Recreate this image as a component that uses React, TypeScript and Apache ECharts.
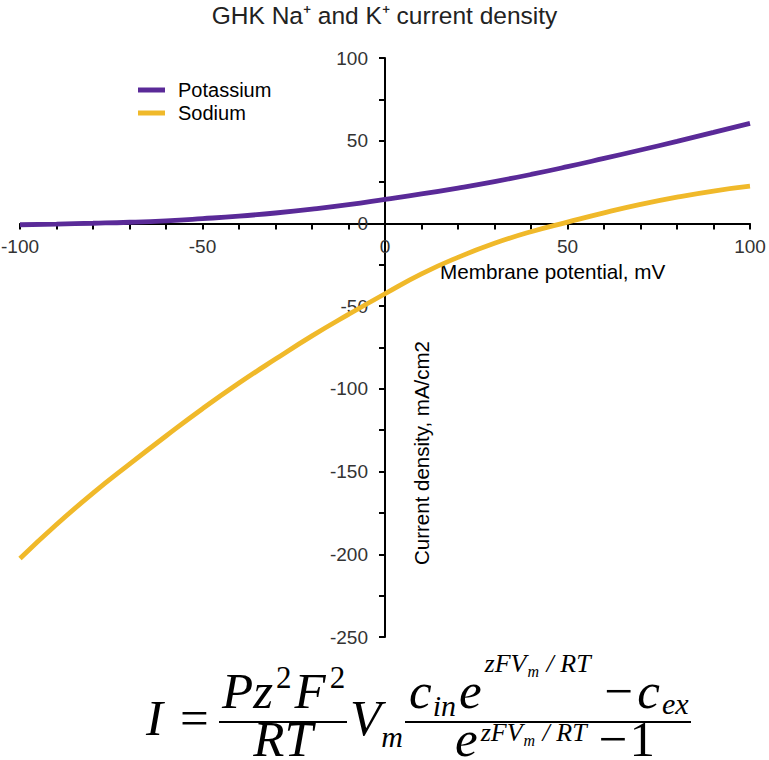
import React, { useEffect, useRef } from "react";
import * as echarts from "echarts";

const voltages = [-100, -90, -80, -70, -60, -50, -40, -30, -20, -10, 0, 10, 20, 30, 40, 50, 60, 70, 80, 90, 100];
const potassium = [-0.8, -0.4, 0.1, 0.7, 1.6, 2.9, 4.4, 6.3, 8.6, 11.3, 14.5, 17.8, 21.4, 25.3, 29.6, 34.3, 39.3, 44.4, 49.6, 55, 60.5];
const sodium = [-202.5, -182, -163, -145.5, -128.5, -112, -96.5, -82, -68, -55, -42.5, -30.5, -20.5, -12, -5, 0.8, 6.4, 11.5, 15.9, 19.6, 22.5];
const seriesNames = ["Potassium", "Sodium"];
const xTickLabels = [-100, -50, 0, 50, 100];
const yTickLabels = [-250, -200, -150, -100, -50, 0, 50, 100];

const X_MIN = -100, X_MAX = 100, Y_MIN = -250, Y_MAX = 100;

const SERIF = "'Liberation Serif', 'Times New Roman', serif";
const SANS = "'Liberation Sans', Arial, Helvetica, sans-serif";

type Piece = { t: string; size: number; it?: boolean; dy?: number; gap?: number };

let ctx: CanvasRenderingContext2D | null = null;
function measure(text: string, size: number, it: boolean) {
  if (!ctx) ctx = document.createElement("canvas").getContext("2d");
  if (!ctx) return text.length * size * 0.5;
  ctx.font = `${it ? "italic " : ""}${size}px ${SERIF}`;
  return ctx.measureText(text).width;
}

function row(pieces: Piece[], x0: number, baseline: number) {
  const out: any[] = [];
  let x = x0;
  for (const p of pieces) {
    x += p.gap || 0;
    const it = p.it !== false;
    out.push({
      type: "text",
      style: {
        text: p.t,
        x,
        y: baseline + (p.dy || 0) - 0.3375 * p.size,
        fontSize: p.size,
        lineHeight: Math.round(p.size * 0.7),
        fontFamily: SERIF,
        fontStyle: it ? "italic" : "normal",
        fill: "#000",
        align: "left",
        verticalAlign: "middle",
      },
    });
    x += measure(p.t, p.size, it);
  }
  return out;
}

function rowWidth(pieces: Piece[]) {
  let w = 0;
  for (const p of pieces) w += (p.gap || 0) + measure(p.t, p.size, p.it !== false);
  return w;
}

function formula() {
  const F = 51;
  const els: any[] = [];
  els.push(...row([{ t: "I", size: F }], 146, 735));
  els.push(...row([{ t: "=", size: F, it: false }], 180, 735));
  els.push(
    ...row(
      [
        { t: "Pz", size: F },
        { t: "2", size: 31, it: false, dy: -20, gap: 3 },
        { t: "F", size: F, gap: 3 },
        { t: "2", size: 31, it: false, dy: -20, gap: 4 },
      ],
      222,
      708
    )
  );
  els.push({ type: "line", shape: { x1: 219, y1: 722, x2: 347, y2: 722 }, style: { stroke: "#000", lineWidth: 2 } });
  const rt: Piece[] = [{ t: "RT", size: F }];
  els.push(...row(rt, 283 - rowWidth(rt) / 2, 756));
  els.push(...row([{ t: "V", size: F }, { t: "m", size: 30, dy: 12, gap: 0 }], 350, 735));
  els.push({ type: "line", shape: { x1: 405, y1: 722, x2: 691, y2: 722 }, style: { stroke: "#000", lineWidth: 2 } });
  els.push(
    ...row(
      [
        { t: "c", size: F },
        { t: "in", size: 30, dy: 8, gap: 1 },
        { t: "e", size: F, gap: 3 },
        { t: "zFV", size: 26, dy: -36, gap: 3 },
        { t: "m", size: 16, dy: -31, gap: 1 },
        { t: " / RT", size: 26, dy: -36, gap: 1 },
        { t: "\u2212", size: F, it: false, gap: 14 },
        { t: "c", size: F, gap: 4 },
        { t: "ex", size: 30, dy: 6, gap: 2 },
      ],
      409,
      708
    )
  );
  els.push(
    ...row(
      [
        { t: "e", size: F },
        { t: "zFV", size: 26, dy: -15, gap: 3 },
        { t: "m", size: 16, dy: -10, gap: 1 },
        { t: " / RT", size: 26, dy: -15, gap: 1 },
        { t: "\u2212", size: F, it: false, gap: 12 },
        { t: "1", size: F, it: false, gap: 2 },
      ],
      455,
      756
    )
  );
  return els;
}

export default function App() {
  const ref = useRef<HTMLDivElement>(null);
  useEffect(() => {
    document.body.style.margin = "0";
    if (!ref.current) return;
    const chart = echarts.init(ref.current, undefined, { renderer: "svg" });
    const W = 769, H = 760;
    const grid = { left: 20, right: 19, top: 58, bottom: 123 };
    const gw = W - grid.left - grid.right;
    const gh = H - grid.top - grid.bottom;
    // offsets that put each axis on the other axis' zero
    const xAxisOffset = -(gh * (0 - Y_MIN)) / (Y_MAX - Y_MIN);
    const yAxisOffset = -(gw * (0 - X_MIN)) / (X_MAX - X_MIN);
    const option: any = {
      animation: false,
      backgroundColor: "#fff",
      title: {
        text: "GHK Na\u207A and K\u207A current density",
        left: "center",
        top: -2,
        textStyle: { fontSize: 24.5, fontWeight: "normal", color: "#222", fontFamily: SANS },
      },
      legend: {
        data: seriesNames,
        orient: "vertical",
        left: 133,
        top: 75,
        itemWidth: 27,
        itemHeight: 5,
        itemGap: 3,
        icon: "rect",
        textStyle: { fontSize: 20, color: "#000", fontFamily: SANS, lineHeight: 20, padding: [0, 0, 0, 8] },
      },
      grid: { ...grid, containLabel: false, outerBoundsMode: "none" },
      xAxis: {
        type: "value",
        min: X_MIN,
        max: X_MAX,
        interval: 10,
        position: "bottom",
        offset: xAxisOffset,
        splitLine: { show: false },
        axisLine: { onZero: false, lineStyle: { color: "#000", width: 2 } },
        axisTick: { length: 6, lineStyle: { color: "#000", width: 2 } },
        axisLabel: {
          margin: 14,
          fontSize: 19,
          color: "#333",
          fontFamily: SANS,
          formatter: (v: number) => (xTickLabels.includes(v) ? String(v) : ""),
        },
      },
      yAxis: {
        type: "value",
        min: Y_MIN,
        max: Y_MAX,
        interval: 25,
        position: "left",
        offset: yAxisOffset,
        splitLine: { show: false },
        axisLine: { onZero: false, lineStyle: { color: "#000", width: 2 } },
        axisTick: { length: 6, lineStyle: { color: "#000", width: 2 } },
        axisLabel: {
          margin: 17,
          fontSize: 19,
          color: "#333",
          fontFamily: SANS,
          formatter: (v: number) => (yTickLabels.includes(v) ? String(v) : ""),
        },
      },
      series: [
        {
          name: seriesNames[0],
          type: "line",
          data: voltages.map((v, i) => [v, potassium[i]]),
          showSymbol: false,
          smooth: true,
          lineStyle: { width: 4.8, color: "#5A2A98" },
          itemStyle: { color: "#5A2A98" },
        },
        {
          name: seriesNames[1],
          type: "line",
          data: voltages.map((v, i) => [v, sodium[i]]),
          showSymbol: false,
          smooth: true,
          lineStyle: { width: 4.8, color: "#F0B92A" },
          itemStyle: { color: "#F0B92A" },
        },
      ],
      graphic: [
        {
          type: "text",
          style: {
            text: "Membrane potential, mV",
            x: 440,
            y: 271,
            fontSize: 20.7,
            fontFamily: SANS,
            fill: "#000",
            align: "left",
            verticalAlign: "middle",
          },
        },
        {
          type: "text",
          x: 421,
          y: 453,
          rotation: Math.PI / 2,
          style: {
            text: "Current density, mA/cm2",
            x: 0,
            y: 0,
            fontSize: 20.5,
            fontFamily: SANS,
            fill: "#000",
            align: "center",
            verticalAlign: "middle",
          },
        },
        { type: "group", children: formula() },
      ],
    };
    chart.setOption(option);
    return () => chart.dispose();
  }, []);
  return <div ref={ref} style={{ width: 769, height: 760, position: "absolute", left: 0, top: 0 }} />;
}
